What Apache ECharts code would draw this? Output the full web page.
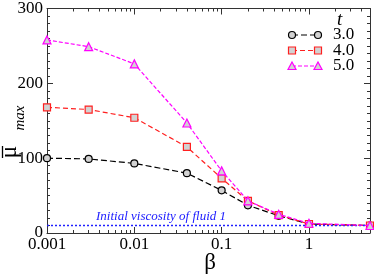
<!DOCTYPE html>
<html><head><meta charset="utf-8">
<script src="https://cdn.jsdelivr.net/npm/echarts@6/dist/echarts.min.js"></script>
<style>html,body{margin:0;padding:0;background:#fff}#c{width:374px;height:275px}</style>
</head><body><div id="c"></div>
<script>
const beta = [0.001, 0.003, 0.01, 0.04, 0.1, 0.2, 0.45, 1, 5];
const mu3 = [100, 99, 93, 80, 57, 37, 23, 12, 10];
const mu4 = [168, 165, 154, 115, 73, 43, 24, 12, 10];
const mu5 = [258, 249, 226, 147, 83, 43, 25, 13, 10];
const seriesNames = ['3.0', '4.0', '5.0'];
const xTickLabels = ['0.001', '0.01', '0.1', '1'];
const xMajor = [0.001, 0.01, 0.1, 1];
const xMinor = [0.002,0.003,0.004,0.005,0.006,0.007,0.008,0.009,0.02,0.03,0.04,0.05,0.06,0.07,0.08,0.09,0.2,0.3,0.4,0.5,0.6,0.7,0.8,0.9,2,3,4,5];
const initialViscosity = 10;
const annotation = 'Initial viscosity of fluid 1';

const serif = '"Liberation Serif", "DejaVu Serif", serif';
const colors = ['#000000', '#ff2020', '#ff00ff'];
const symbols = ['circle', 'rect', 'triangle'];
const symSizes = [7, 7, 8];
const dashes = [[6, 3], [5, 3], [4, 2]];
const allData = [mu3, mu4, mu5];
const fill = '#d2d2d2';
const axisColor = '#333';

const chart = echarts.init(document.getElementById('c'));

function xAx(pos, main) {
  return {
    type: 'log', min: 0.001, max: 5, position: pos, logBase: 10,
    axisLine: { show: main, lineStyle: { color: axisColor, width: 1 } },
    axisTick: { show: true, inside: true, length: main ? 6 : 3, customValues: main ? xMajor : xMinor, lineStyle: { color: axisColor } },
    axisLabel: (main && pos === 'bottom') ? {
      show: true, customValues: xMajor, margin: 3,
      formatter: v => { const i = xMajor.findIndex(m => Math.abs(m - v) / m < 1e-6); return i >= 0 ? xTickLabels[i] : ''; },
      fontFamily: serif, fontSize: 17, color: '#000'
    } : { show: false },
    splitLine: { show: false }, minorTick: { show: false }
  };
}
function yAx(pos) {
  return {
    type: 'value', min: 0, max: 300, interval: 100, position: pos,
    axisLine: { show: true, lineStyle: { color: axisColor, width: 1 } },
    axisTick: { show: true, inside: true, length: 6, lineStyle: { color: axisColor } },
    minorTick: { show: true, splitNumber: 10, length: 3, lineStyle: { color: axisColor } },
    axisLabel: pos === 'left' ? { show: true, margin: 4, fontFamily: serif, fontSize: 17, color: '#000' } : { show: false },
    splitLine: { show: false }, minorSplitLine: { show: false }
  };
}

const series = allData.map((d, i) => ({
  type: 'line', name: seriesNames[i], xAxisIndex: 0, yAxisIndex: 0,
  data: beta.map((b, k) => [b, d[k]]),
  symbol: symbols[i], symbolSize: symSizes[i], showAllSymbol: true,
  lineStyle: { color: colors[i], width: 1.2, type: dashes[i] },
  itemStyle: { color: fill, borderColor: colors[i], borderWidth: 1.2 },
  z: 3 + i
}));
series.push({
  type: 'line', name: 'ref', xAxisIndex: 0, yAxisIndex: 0, data: [],
  markLine: {
    silent: true, symbol: 'none', animation: false,
    lineStyle: { color: '#2020ff', width: 1.3, type: [2, 2] },
    label: { show: false },
    data: [{ yAxis: initialViscosity }]
  }
});

const legendGraphics = [];
legendGraphics.push({ type: 'text', left: 337, top: 10, style: { text: 't', font: 'italic 19px ' + serif, fill: '#000' } });
seriesNames.forEach((n, i) => {
  const y = 35 + i * 15.5;
  legendGraphics.push({ type: 'line', shape: { x1: 292, y1: y, x2: 318, y2: y }, style: { stroke: colors[i], lineWidth: 1.2, lineDash: dashes[i] } });
  [292, 318].forEach(x => {
    let g;
    if (symbols[i] === 'circle') g = { type: 'circle', shape: { cx: x, cy: y, r: 3.5 } };
    else if (symbols[i] === 'rect') g = { type: 'rect', shape: { x: x - 3.5, y: y - 3.5, width: 7, height: 7 } };
    else g = { type: 'polygon', shape: { points: [[x, y - 4], [x + 4, y + 3.5], [x - 4, y + 3.5]] } };
    g.style = { fill: fill, stroke: colors[i], lineWidth: 1.2 };
    g.z = 10;
    legendGraphics.push(g);
  });
  legendGraphics.push({ type: 'text', x: 333, y: y, style: { text: n, font: '17px ' + serif, fill: '#000', verticalAlign: 'middle' } });
});

chart.setOption({
  animation: false,
  grid: { left: 47, right: 4, top: 7, bottom: 42, containLabel: false },
  xAxis: [xAx('bottom', true), xAx('bottom', false), xAx('top', true), xAx('top', false)],
  yAxis: [yAx('left'), yAx('right')],
  series: series,
  graphic: legendGraphics.concat([
    { type: 'text', x: 210, y: 263, style: { text: 'β', font: '23px ' + serif, fill: '#000', align: 'center', verticalAlign: 'middle' } },
    { type: 'text', x: 10, y: 152, rotation: Math.PI / 2, style: { text: 'μ', font: '23px ' + serif, fill: '#000', align: 'center', verticalAlign: 'middle' } },
    { type: 'line', shape: { x1: 2.5, y1: 158, x2: 2.5, y2: 146 }, style: { stroke: '#000', lineWidth: 1.3 } },
    { type: 'text', x: 20, y: 118, rotation: Math.PI / 2, style: { text: 'max', font: 'italic 15px ' + serif, fill: '#000', align: 'center', verticalAlign: 'middle' } },
    { type: 'text', x: 96, y: 217, style: { text: annotation, font: 'italic 13px ' + serif, fill: '#2020ff', verticalAlign: 'middle' } }
  ])
});
</script></body></html>
